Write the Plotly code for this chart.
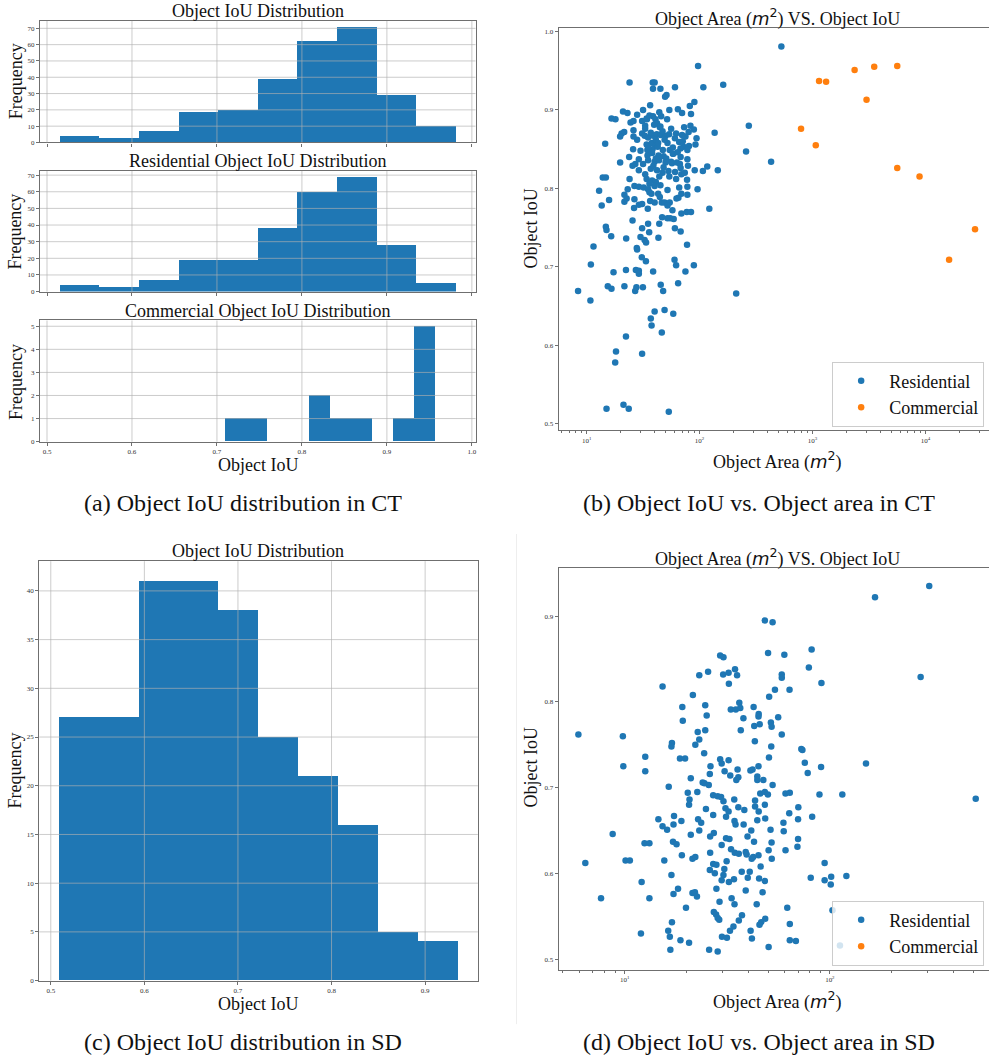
import numpy as np
import plotly.graph_objects as go

# ---------------- DATA ----------------
# (a) CT histograms: counts per bin (10 bins between min and max IoU of each group)
ct_all_counts = [4, 3, 7, 19, 20, 39, 62, 71, 29, 10]
ct_res_counts = [4, 3, 7, 19, 19, 38, 60, 69, 28, 5]
ct_com_counts = [1, 1, 0, 0, 2, 1, 1, 0, 1, 5]
# (c) SD histogram counts
sd_counts = [27, 27, 41, 41, 38, 25, 21, 16, 5, 4]

# (b) CT scatter: residential objects (area m^2, IoU)
ct_res_area = [
    530, 97, 24, 38.5, 40, 38.7, 45, 60.6, 108, 162, 49.5, 51, 90, 82, 36.5, 31.6, 21, 23, 28, 16.6,
    18, 34, 38.7, 40.7, 45.7, 51.6, 54, 64.3, 70, 84, 24.5, 26, 31, 34.2, 39.6, 42, 44.5, 33, 73, 83,
    89, 273, 20.4, 21.5, 19.8, 26, 31, 32.7, 35, 39, 41.8, 45, 50, 53.8, 60.5, 70, 80, 94, 92, 136,
    14.6, 34, 37.8, 41, 72, 80.6, 258, 430, 25.8, 34.5, 38.3, 42.6, 47.3, 54.4, 58.6, 67.8, 78, 19.8, 23.8, 29,
    34.6, 43.3, 48, 50.7, 58, 68, 78, 25.5, 27, 31.6, 35, 40, 43.8, 50, 57, 63, 67, 79, 90.6, 107,
    117, 145, 37, 42, 47, 53, 60.7, 69, 54, 77.5, 34, 38, 41, 26.5, 29, 32, 35, 40, 45, 66,
    78, 96, 12.9, 23.1, 36, 37.5, 43, 44.5, 21.6, 22.6, 15.8, 21.6, 26.5, 36.5, 40, 46.3, 49, 54.4, 62.5, 65,
    69, 78, 13.6, 26.3, 29, 31, 34.8, 52, 57.5, 69, 77, 84, 122, 25.5, 46.6, 52, 55, 44, 35, 59,
    60.5, 68, 14.8, 15, 16.5, 22.4, 30, 32.6, 43.2, 31, 35.8, 11.5, 27.8, 77.5, 33.6, 10.9, 8.4, 10.8, 15.4, 16.6,
    17.3, 21.6, 22.3, 26.9, 27.6, 27.3, 29, 29, 28, 30.8, 33.5, 31.5, 38.8, 45.3, 47.6, 60, 62, 75, 89, 64.6,
    40, 49, 58.5, 37, 37.6, 46.3, 22.3, 18.2, 17.9, 31, 211, 21.2, 15, 23.6, 53.4, 13.9, 14.8,
    44, 36, 28, 33, 37, 41, 47, 52, 56, 62, 66, 75, 30, 38, 43, 49, 58, 64, 71, 35,
    26, 45, 29, 33, 39, 44, 48, 56, 62, 68, 74, 36, 52, 41, 24,
]
ct_res_iou = [
    0.981, 0.956, 0.935, 0.935, 0.935, 0.927, 0.927, 0.929, 0.929, 0.932, 0.917, 0.919, 0.910, 0.905, 0.906, 0.900, 0.898, 0.896, 0.894, 0.889,
    0.888, 0.889, 0.892, 0.888, 0.892, 0.888, 0.900, 0.901, 0.896, 0.895, 0.884, 0.886, 0.886, 0.888, 0.881, 0.883, 0.878, 0.880, 0.878, 0.880,
    0.875, 0.880, 0.870, 0.872, 0.866, 0.874, 0.870, 0.867, 0.865, 0.867, 0.869, 0.868, 0.867, 0.869, 0.864, 0.868, 0.872, 0.864, 0.856, 0.871,
    0.857, 0.856, 0.858, 0.854, 0.853, 0.854, 0.847, 0.834, 0.850, 0.849, 0.850, 0.853, 0.849, 0.849, 0.844, 0.851, 0.849, 0.833, 0.840, 0.837,
    0.842, 0.842, 0.841, 0.838, 0.844, 0.840, 0.837, 0.829, 0.831, 0.831, 0.836, 0.834, 0.836, 0.833, 0.832, 0.833, 0.831, 0.829, 0.823, 0.822,
    0.828, 0.823, 0.825, 0.823, 0.820, 0.822, 0.821, 0.818, 0.815, 0.811, 0.812, 0.810, 0.808, 0.803, 0.802, 0.801, 0.799, 0.803, 0.804, 0.801,
    0.802, 0.799, 0.797, 0.799, 0.795, 0.793, 0.793, 0.789, 0.792, 0.787, 0.785, 0.783, 0.786, 0.784, 0.782, 0.782, 0.782, 0.782, 0.787, 0.788,
    0.793, 0.792, 0.778, 0.775, 0.779, 0.780, 0.774, 0.778, 0.772, 0.768, 0.770, 0.770, 0.774, 0.759, 0.763, 0.762, 0.762, 0.755, 0.755, 0.761,
    0.749, 0.745, 0.751, 0.747, 0.739, 0.736, 0.738, 0.734, 0.737, 0.749, 0.744, 0.726, 0.724, 0.728, 0.731, 0.703, 0.669, 0.657, 0.675, 0.672,
    0.693, 0.675, 0.696, 0.669, 0.674, 0.696, 0.695, 0.691, 0.722, 0.712, 0.707, 0.674, 0.694, 0.677, 0.669, 0.709, 0.702, 0.694, 0.702, 0.679,
    0.643, 0.645, 0.640, 0.634, 0.625, 0.616, 0.611, 0.592, 0.578, 0.589, 0.666, 0.524, 0.519, 0.519, 0.515, 0.814, 0.814,
    0.897, 0.893, 0.862, 0.876, 0.871, 0.862, 0.873, 0.858, 0.876, 0.870, 0.859, 0.866, 0.848, 0.845, 0.858, 0.862, 0.852, 0.846, 0.860, 0.853,
    0.866, 0.879, 0.823, 0.818, 0.829, 0.815, 0.827, 0.834, 0.812, 0.826, 0.820, 0.806, 0.798, 0.838, 0.812,
]
# (b) CT scatter: commercial objects
ct_com_area = [1143, 1320, 2360, 3520, 5630, 3010, 792, 1069, 5630, 8870, 27500, 16200]
ct_com_iou = [0.937, 0.936, 0.951, 0.955, 0.956, 0.913, 0.876, 0.855, 0.826, 0.815, 0.748, 0.709]

# (d) SD scatter: residential objects
sd_res_area = [
    305, 166, 48.2, 52.6, 81.5, 50, 60, 29.2, 30.3, 79, 277, 34.5, 23.1, 25.5, 30.2, 32.1, 35.3, 58.3, 58.3, 91,
    32.2, 15.3, 54, 63.6, 21.5, 50.6, 19.1, 24.7, 32.9, 34.8, 36.2, 36.6, 42.5, 25.1, 37.9, 45, 56, 44.9, 19.2, 45.5,
    42.8, 51.6, 52, 58.3, 36.8, 24.7, 22.7, 5.95, 9.8, 23.1, 43.1, 17, 16.9, 22.1, 51.8, 72.6, 73.5, 24.4, 12.6, 18.6,
    19.7, 29.2, 32.1, 50.5, 29.7, 75.5, 150, 9.85, 26.2, 44.9, 90.6, 12.6, 30.7, 35.5, 41, 42, 26, 32.7, 78, 21,
    24, 35.8, 35, 44.3, 44.3, 47.4, 25.7, 24.5, 52.6, 16.4, 514, 20.3, 22.6, 20.7, 20.6, 27, 28.4, 29.5, 30.3, 34.2,
    35.8, 38.3, 43.2, 45.8, 48.2, 49.9, 43.2, 48.2, 60.8, 63.8, 89, 115, 70.2, 63.4, 59.4, 82, 70, 24.9, 31, 32.1,
    31.2, 34.3, 34.7, 44.3, 48.4, 22.8, 23.6, 23.1, 14.6, 15.3, 16.1, 17.4, 17.3, 18.9, 8.74, 26.1, 27.2, 31.2, 32.4, 41.4,
    39.7, 42.7, 51.4, 52, 59.6, 70, 69.5, 60.8, 50.3, 29.7, 17.2, 17.9, 12.5, 13.2, 26.1, 34.4, 36, 38.9, 39.3, 44.9,
    41.6, 42.3, 52.1, 21.4, 22.1, 15.6, 10.1, 10.6, 6.43, 31.4, 27, 28, 26, 27.5, 30.6, 30.3, 29.7, 32.2, 34.1, 37.2,
    40.7, 39.8, 45.2, 48.2, 94.3, 80.7, 94.3, 101.5, 101, 120.4, 16.9, 12.1, 7.67, 13.2, 17.3, 18.2, 21.4, 22, 22.5, 33.2,
    34.3, 29, 38.9, 47, 44, 19.9, 62, 37.3, 27.2, 27.9, 28.4, 28.9, 48.4, 46.3, 45.4, 17, 16.3, 32.6, 33.9, 41.1,
    63.8, 12, 16.6, 29.8, 31.5, 41.7, 63.8, 68.3, 18.7, 20.6, 16.7, 25.8, 28.4, 50.3, 103, 112,
    27, 38, 45, 21, 33, 46, 19, 28, 36,
]
sd_res_iou = [
    0.935, 0.922, 0.895, 0.893, 0.861, 0.857, 0.855, 0.854, 0.852, 0.840, 0.829, 0.838, 0.831, 0.835, 0.832, 0.834, 0.831, 0.832, 0.828, 0.822,
    0.821, 0.818, 0.814, 0.814, 0.808, 0.806, 0.794, 0.796, 0.791, 0.791, 0.799, 0.793, 0.794, 0.784, 0.781, 0.786, 0.782, 0.783, 0.778, 0.774,
    0.772, 0.776, 0.771, 0.762, 0.767, 0.767, 0.765, 0.762, 0.760, 0.756, 0.754, 0.752, 0.748, 0.750, 0.748, 0.745, 0.744, 0.740, 0.736, 0.734,
    0.734, 0.733, 0.732, 0.735, 0.728, 0.729, 0.728, 0.725, 0.725, 0.725, 0.724, 0.719, 0.719, 0.721, 0.720, 0.721, 0.716, 0.714, 0.717, 0.711,
    0.706, 0.712, 0.709, 0.713, 0.709, 0.709, 0.703, 0.705, 0.703, 0.701, 0.687, 0.694, 0.695, 0.686, 0.680, 0.691, 0.690, 0.689, 0.684, 0.686,
    0.677, 0.674, 0.685, 0.693, 0.695, 0.692, 0.678, 0.680, 0.693, 0.694, 0.692, 0.692, 0.677, 0.670, 0.659, 0.666, 0.663, 0.675, 0.676, 0.672,
    0.666, 0.661, 0.657, 0.662, 0.664, 0.663, 0.659, 0.650, 0.663, 0.655, 0.651, 0.667, 0.657, 0.661, 0.646, 0.643, 0.647, 0.641, 0.640, 0.650,
    0.643, 0.637, 0.651, 0.636, 0.649, 0.640, 0.631, 0.627, 0.627, 0.633, 0.637, 0.634, 0.635, 0.635, 0.624, 0.624, 0.623, 0.625, 0.622, 0.621,
    0.617, 0.619, 0.617, 0.617, 0.619, 0.615, 0.615, 0.615, 0.612, 0.614, 0.611, 0.610, 0.604, 0.600, 0.605, 0.598, 0.592, 0.590, 0.593, 0.602,
    0.602, 0.595, 0.594, 0.591, 0.612, 0.595, 0.592, 0.596, 0.587, 0.597, 0.598, 0.590, 0.571, 0.571, 0.576, 0.582, 0.577, 0.578, 0.573, 0.571,
    0.564, 0.567, 0.580, 0.578, 0.564, 0.560, 0.560, 0.551, 0.555, 0.552, 0.548, 0.546, 0.547, 0.543, 0.540, 0.543, 0.533, 0.533, 0.538, 0.533,
    0.541, 0.530, 0.526, 0.526, 0.525, 0.524, 0.522, 0.521, 0.522, 0.519, 0.511, 0.511, 0.509, 0.514, 0.557, 0.516,
    0.668, 0.657, 0.672, 0.645, 0.628, 0.608, 0.621, 0.582, 0.545,
]
# (d) SD scatter: commercial objects (none present)
sd_com_area = []
sd_com_iou = []

# tick labels
hist_a_xticks = [0.5, 0.6, 0.7, 0.8, 0.9, 1.0]
hist_a_yticks = [0, 10, 20, 30, 40, 50, 60, 70]
hist_com_yticks = [0, 1, 2, 3, 4, 5]
hist_c_xticks = [0.5, 0.6, 0.7, 0.8, 0.9]
hist_c_yticks = [0, 5, 10, 15, 20, 25, 30, 35, 40]
scat_b_yticks = [0.5, 0.6, 0.7, 0.8, 0.9, 1.0]
scat_d_yticks = [0.5, 0.6, 0.7, 0.8, 0.9]
scat_b_xticks = [10, 100, 1000, 10000]
scat_d_xticks = [10, 100]

# ---------------- STYLE ----------------
W, H = 990, 1064
BLUE = '#1f77b4'
ORANGE = '#ff7f0e'
SERIF = 'Liberation Serif, Times New Roman, serif'
SPINE = '#6f6f6f'
TXT = '#111111'


def fx(p):
    return p / W


def fy(p):
    return 1 - p / H


def margin_range(lo, hi, frac=0.05):
    d = hi - lo
    return [lo - frac * d, hi + frac * d]


fig = go.Figure()


def add_hist(counts, lo, hi, xa, ya):
    edges = np.linspace(lo, hi, len(counts) + 1)
    centers = (edges[:-1] + edges[1:]) / 2
    fig.add_trace(go.Bar(
        x=centers, y=counts, width=edges[1] - edges[0],
        marker=dict(color=BLUE, line=dict(width=0)),
        xaxis=xa, yaxis=ya, showlegend=False, hoverinfo='skip'))


ct_all_iou = ct_res_iou + ct_com_iou
add_hist(ct_all_counts, min(ct_all_iou), max(ct_all_iou), 'x', 'y')
add_hist(ct_res_counts, min(ct_res_iou), max(ct_res_iou), 'x2', 'y2')
add_hist(ct_com_counts, min(ct_com_iou), max(ct_com_iou), 'x3', 'y3')
add_hist(sd_counts, min(sd_res_iou), max(sd_res_iou), 'x5', 'y5')

mk = dict(size=6.5, line=dict(width=0))
fig.add_trace(go.Scatter(x=ct_res_area, y=ct_res_iou, mode='markers', name='Residential',
                         marker=dict(color=BLUE, **mk), xaxis='x4', yaxis='y4', legend='legend'))
fig.add_trace(go.Scatter(x=ct_com_area, y=ct_com_iou, mode='markers', name='Commercial',
                         marker=dict(color=ORANGE, **mk), xaxis='x4', yaxis='y4', legend='legend'))
fig.add_trace(go.Scatter(x=sd_res_area, y=sd_res_iou, mode='markers', name='Residential',
                         marker=dict(color=BLUE, **mk), xaxis='x6', yaxis='y6', legend='legend2'))
fig.add_trace(go.Scatter(x=sd_com_area if sd_com_area else [None], y=sd_com_iou if sd_com_iou else [None],
                         mode='markers', name='Commercial',
                         marker=dict(color=ORANGE, **mk), xaxis='x6', yaxis='y6', legend='legend2'))

tickfont = dict(family=SERIF, size=7, color='#333333')
base = dict(showline=True, linecolor=SPINE, linewidth=1.2, ticks='outside', ticklen=3,
            tickcolor=SPINE, tickwidth=1, tickfont=tickfont, zeroline=False, showgrid=False,
            fixedrange=True)

xr_a = margin_range(min(ct_all_iou), max(ct_all_iou))
xr_c = margin_range(min(sd_res_iou), max(sd_res_iou))

lay = {}
# histogram (a) top
lay['xaxis'] = dict(base, domain=[fx(40), fx(476)], range=xr_a, tickvals=hist_a_xticks,
                    showticklabels=False, mirror=True, anchor='y')
lay['yaxis'] = dict(base, domain=[fy(143), fy(21)], range=[0, max(ct_all_counts) * 1.05],
                    tickvals=hist_a_yticks, mirror=True, anchor='x')
lay['xaxis2'] = dict(base, domain=[fx(40), fx(476)], range=xr_a, tickvals=hist_a_xticks,
                     showticklabels=False, mirror=True, anchor='y2')
lay['yaxis2'] = dict(base, domain=[fy(292.7), fy(171.7)], range=[0, max(ct_res_counts) * 1.05],
                     tickvals=hist_a_yticks, mirror=True, anchor='x2')
lay['xaxis3'] = dict(base, domain=[fx(40), fx(476)], range=xr_a, tickvals=hist_a_xticks,
                     ticktext=[f'{v:.1f}' for v in hist_a_xticks], mirror=True, anchor='y3')
lay['yaxis3'] = dict(base, domain=[fy(443.3), fy(321.7)], range=[0, max(ct_com_counts) * 1.05],
                     tickvals=hist_com_yticks, mirror=True, anchor='x3')
# scatter (b)
minor_b = [m * 10 ** e for e in range(0, 5) for m in range(2, 10)]
lay['xaxis4'] = dict(base, type='log', domain=[fx(559.3), 1.0], range=[0.753, 4.563],
                     tickvals=scat_b_xticks,
                     ticktext=['10<sup>%d</sup>' % int(np.log10(v)) for v in scat_b_xticks],
                     minor=dict(ticks='outside', ticklen=2, tickcolor=SPINE, tickvals=minor_b, showgrid=False),
                     mirror=True, anchor='y4')
lay['yaxis4'] = dict(base, domain=[fy(431.7), fy(28.3)], range=margin_range(min(ct_all_iou), max(ct_all_iou)),
                     tickvals=scat_b_yticks, ticktext=[f'{v:.1f}' for v in scat_b_yticks],
                     mirror=False, anchor='x4')
# histogram (c)
lay['xaxis5'] = dict(base, domain=[fx(39.3), fx(478.3)], range=xr_c, tickvals=hist_c_xticks,
                     ticktext=[f'{v:.1f}' for v in hist_c_xticks], mirror=True, anchor='y5')
lay['yaxis5'] = dict(base, domain=[fy(984.3), fy(563.3)], range=[0, max(sd_counts) * 1.05],
                     tickvals=hist_c_yticks, mirror=True, anchor='x5')
# scatter (d)
minor_d = [m * 10 ** e for e in range(0, 3) for m in range(2, 10)]
lay['xaxis6'] = dict(base, type='log', domain=[fx(559.3), 1.0], range=[0.6787, 2.7756],
                     tickvals=scat_d_xticks,
                     ticktext=['10<sup>%d</sup>' % int(np.log10(v)) for v in scat_d_xticks],
                     minor=dict(ticks='outside', ticklen=2, tickcolor=SPINE, tickvals=minor_d, showgrid=False),
                     mirror=True, anchor='y6')
lay['yaxis6'] = dict(base, domain=[fy(973.3), fy(570)], range=margin_range(min(sd_res_iou), max(sd_res_iou)),
                     tickvals=scat_d_yticks, ticktext=[f'{v:.1f}' for v in scat_d_yticks],
                     mirror=False, anchor='x6')

# grid lines drawn above the bars (as in the pandas histogram)
shapes = []
GRID = 'rgba(176,176,176,0.65)'
for xa, ya, xt, yt in [('x', 'y', hist_a_xticks, hist_a_yticks),
                       ('x2', 'y2', hist_a_xticks, hist_a_yticks),
                       ('x3', 'y3', hist_a_xticks, hist_com_yticks),
                       ('x5', 'y5', hist_c_xticks, hist_c_yticks)]:
    for v in xt:
        shapes.append(dict(type='line', xref=xa, yref=ya + ' domain', x0=v, x1=v, y0=0, y1=1,
                           line=dict(color=GRID, width=1), layer='above'))
    for v in yt[1:]:
        shapes.append(dict(type='line', xref=xa + ' domain', yref=ya, x0=0, x1=1, y0=v, y1=v,
                           line=dict(color=GRID, width=1), layer='above'))
# faint border of the embedded panel (d)
shapes.append(dict(type='line', xref='paper', yref='paper', x0=fx(517), x1=fx(517), y0=fy(1028), y1=fy(536),
                   line=dict(color='#eeeeee', width=1), layer='below'))

M2 = "<span style='font-family:DejaVu Sans'><i>m</i><sup>2</sup></span>"
ann = []


def text(t, x, y, size, angle=0):
    ann.append(dict(text=t, x=fx(x), y=fy(y), xref='paper', yref='paper', showarrow=False,
                    xanchor='center', yanchor='middle', textangle=angle,
                    font=dict(family=SERIF, size=size, color=TXT)))


text('Object IoU Distribution', 258, 11, 18)
text('Residential Object IoU Distribution', 258, 161.5, 18)
text('Commercial Object IoU Distribution', 258, 312, 18)
text('Frequency', 15.5, 81, 18, -90)
text('Frequency', 15.5, 232, 18, -90)
text('Frequency', 15.5, 383, 18, -90)
text('Object IoU', 258, 467, 18)
text('Object Area (' + M2 + ') VS. Object IoU', 778, 18, 18)
text('Object IoU', 532, 229, 18, -90)
text('Object Area (' + M2 + ')', 778, 462, 18)
text('Object IoU Distribution', 258, 553, 18)
text('Frequency', 15.5, 773, 18, -90)
text('Object IoU', 258, 1008, 18)
text('Object Area (' + M2 + ') VS. Object IoU', 778, 560, 18)
text('Object IoU', 532, 770, 18, -90)
text('Object Area (' + M2 + ')', 778, 1004, 18)
text('(a) Object IoU distribution in CT', 243, 505, 24)
text('(b) Object IoU vs. Object area in CT', 760, 505, 24)
text('(c) Object IoU distribution in SD', 243, 1046, 24)
text('(d) Object IoU vs. Object area in SD', 760, 1046, 24)

leg = dict(xanchor='left', yanchor='top', bgcolor='rgba(255,255,255,0.8)', bordercolor='#cccccc',
           borderwidth=1, font=dict(family=SERIF, size=18, color=TXT), itemsizing='trace',
           itemwidth=46)

fig.update_layout(
    width=W, height=H, autosize=False,
    margin=dict(l=0, r=0, t=0, b=0, pad=0),
    paper_bgcolor='white', plot_bgcolor='white',
    bargap=0, barmode='overlay',
    showlegend=True,
    legend=dict(leg, x=fx(833), y=fy(363)),
    legend2=dict(leg, x=fx(833), y=fy(904)),
    shapes=shapes, annotations=ann,
    **lay,
)

# remove the default 8px page margin so the figure fills the window exactly
fig.write_html('out.html', config={'displayModeBar': False},
               post_script="document.body.style.margin='0px';")
